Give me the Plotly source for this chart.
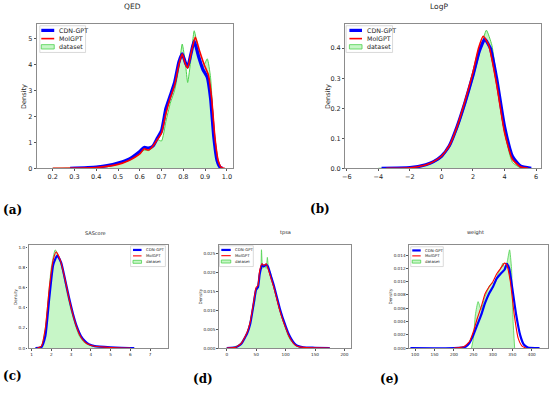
import plotly.graph_objects as go

W, H = 550, 394

# ---------------- data ----------------
qed_x_data = [0.2, 0.3, 0.4, 0.45, 0.5, 0.55, 0.6, 0.62, 0.64, 0.66, 0.68, 0.70, 0.72, 0.74, 0.76, 0.78, 0.795, 0.81, 0.82, 0.835, 0.85, 0.87, 0.89, 0.91, 0.925, 0.94, 0.955, 0.97, 0.98]
qed_y_data = [0.0, 0.01, 0.05, 0.1, 0.17, 0.3, 0.55, 0.7, 0.68, 0.8, 1.1, 1.05, 1.8, 2.5, 3.0, 3.9, 4.78, 4.0, 3.3, 4.2, 5.29, 4.5, 3.9, 4.21, 3.5, 1.5, 0.4, 0.05, 0.0]
qed_x_cdn = [0.28, 0.4, 0.45, 0.5, 0.55, 0.6, 0.62, 0.64, 0.66, 0.68, 0.70, 0.72, 0.74, 0.76, 0.78, 0.795, 0.81, 0.82, 0.835, 0.85, 0.87, 0.89, 0.91, 0.925, 0.94, 0.955, 0.97, 0.98]
qed_y_cdn = [0.0, 0.05, 0.1, 0.2, 0.35, 0.65, 0.8, 0.78, 0.85, 1.15, 1.45, 2.3, 2.8, 3.3, 4.1, 4.4, 4.05, 3.9, 4.4, 4.9, 4.3, 3.8, 3.5, 2.7, 1.2, 0.3, 0.03, 0.0]
qed_x_mol = [0.2, 0.4, 0.5, 0.55, 0.6, 0.62, 0.64, 0.66, 0.68, 0.70, 0.72, 0.74, 0.76, 0.78, 0.795, 0.81, 0.82, 0.835, 0.855, 0.875, 0.895, 0.915, 0.93, 0.945, 0.96, 0.975, 0.99]
qed_y_mol = [0.0, 0.03, 0.15, 0.3, 0.55, 0.75, 0.7, 0.85, 1.1, 1.35, 2.1, 2.7, 3.2, 4.0, 4.4, 4.0, 3.85, 4.4, 5.05, 4.5, 4.0, 3.6, 2.7, 1.2, 0.3, 0.03, 0.0]

logp_x_data = [-4, -2, -1, -0.5, 0, 0.5, 1, 1.5, 2, 2.5, 2.85, 3.2, 3.5, 4, 4.5, 5, 5.5]
logp_y_data = [0.0, 0.002, 0.01, 0.02, 0.035, 0.07, 0.13, 0.21, 0.3, 0.4, 0.46, 0.41, 0.3, 0.12, 0.02, 0.002, 0.0]
logp_x_cdn = [-3.8, -2, -1, -0.5, 0, 0.5, 1, 1.5, 2, 2.4, 2.75, 3.1, 3.5, 4, 4.5, 5, 5.7]
logp_y_cdn = [0.0, 0.002, 0.012, 0.022, 0.04, 0.075, 0.14, 0.22, 0.31, 0.39, 0.43, 0.4, 0.3, 0.14, 0.04, 0.008, 0.0]
logp_x_mol = [-3.5, -2, -1, -0.5, 0, 0.5, 1, 1.5, 2, 2.35, 2.65, 3.0, 3.5, 4, 4.5, 5, 5.5]
logp_y_mol = [0.0, 0.002, 0.011, 0.022, 0.04, 0.075, 0.14, 0.225, 0.32, 0.4, 0.44, 0.41, 0.28, 0.12, 0.03, 0.005, 0.0]

sas_x_data = [1.2, 1.5, 1.7, 1.85, 2.0, 2.2, 2.4, 2.6, 2.8, 3.0, 3.2, 3.4, 3.6, 3.8, 4.0, 4.5, 5.0, 6.0, 6.2]
sas_y_data = [0.0, 0.02, 0.2, 0.5, 0.8, 0.977, 0.9, 0.75, 0.55, 0.38, 0.24, 0.13, 0.07, 0.04, 0.025, 0.01, 0.005, 0.001, 0.0]
sas_x_cdn = [1.2, 1.5, 1.7, 1.9, 2.1, 2.3, 2.5, 2.7, 2.9, 3.1, 3.3, 3.5, 3.7, 3.9, 4.2, 5.0, 6.2]
sas_y_cdn = [0.0, 0.01, 0.12, 0.5, 0.83, 0.92, 0.85, 0.68, 0.5, 0.34, 0.21, 0.12, 0.07, 0.04, 0.02, 0.008, 0.0]
sas_x_mol = [1.3, 1.5, 1.7, 1.9, 2.1, 2.25, 2.45, 2.7, 2.9, 3.1, 3.3, 3.5, 3.7, 3.9, 4.2, 5.0, 6.0]
sas_y_mol = [0.0, 0.02, 0.2, 0.6, 0.88, 0.955, 0.88, 0.68, 0.49, 0.33, 0.2, 0.11, 0.06, 0.035, 0.018, 0.006, 0.0]

tpsa_x_data = [0, 10, 20, 25, 30, 35, 40, 45, 48, 50, 52, 55, 58, 59, 61, 64, 67, 69, 71, 75, 80, 85, 90, 95, 100, 105, 110, 120, 130, 140]
tpsa_y_data = [0.0, 0.0002, 0.0008, 0.0015, 0.0025, 0.004, 0.007, 0.0105, 0.0125, 0.015, 0.0155, 0.019, 0.021, 0.0259, 0.021, 0.022, 0.021, 0.0239, 0.021, 0.0195, 0.016, 0.013, 0.01, 0.0075, 0.0052, 0.003, 0.0017, 0.0005, 0.0001, 0.0]
tpsa_x_cdn = [0, 15, 20, 25, 30, 35, 40, 45, 50, 53, 56, 60, 63, 67, 70, 75, 80, 85, 90, 95, 100, 105, 110, 115, 120, 130, 150, 175]
tpsa_y_cdn = [0.0, 0.0002, 0.0006, 0.0012, 0.0025, 0.004, 0.0065, 0.011, 0.0155, 0.016, 0.0195, 0.022, 0.0215, 0.022, 0.0215, 0.019, 0.0165, 0.0135, 0.0105, 0.008, 0.0058, 0.0038, 0.0023, 0.0012, 0.0006, 0.0002, 0.0001, 0.0]
tpsa_x_mol = [0, 15, 20, 25, 30, 35, 40, 45, 50, 53, 56, 60, 63, 67, 70, 75, 80, 85, 90, 95, 100, 105, 110, 115, 120, 130, 150, 175]
tpsa_y_mol = [0.0, 0.0002, 0.0007, 0.0013, 0.0027, 0.0043, 0.007, 0.0115, 0.016, 0.0165, 0.0205, 0.0222, 0.0218, 0.0222, 0.021, 0.0185, 0.016, 0.013, 0.01, 0.0075, 0.0054, 0.0034, 0.002, 0.001, 0.0005, 0.0002, 0.0001, 0.0]

wt_x_data = [245, 250, 255, 262, 270, 278, 285, 292, 300, 306, 312, 320, 326, 332, 337, 343, 348, 352, 356]
wt_y_data = [0.0, 0.0015, 0.005, 0.007, 0.0058, 0.0075, 0.0085, 0.0095, 0.0098, 0.0098, 0.011, 0.012, 0.0128, 0.0118, 0.013, 0.0148, 0.012, 0.004, 0.0]
wt_x_cdn = [88, 200, 230, 240, 250, 260, 270, 280, 290, 300, 310, 320, 330, 336, 342, 350, 360, 370, 380, 390, 420]
wt_y_cdn = [0.0, 0.0, 0.0002, 0.0008, 0.002, 0.0035, 0.005, 0.0068, 0.0082, 0.0092, 0.0105, 0.0112, 0.0118, 0.0127, 0.012, 0.009, 0.005, 0.002, 0.0005, 0.0001, 0.0]
wt_x_mol = [200, 225, 240, 250, 260, 270, 280, 290, 300, 310, 320, 330, 336, 345, 355, 365, 375, 385]
wt_y_mol = [0.0, 0.0002, 0.001, 0.0025, 0.0045, 0.0062, 0.0082, 0.0092, 0.01, 0.0112, 0.012, 0.0128, 0.0125, 0.01, 0.005, 0.0015, 0.0003, 0.0]

titles = ["QED", "LogP", "SAScore", "tpsa", "weight"]
panel_labels = ["(a)", "(b)", "(c)", "(d)", "(e)"]
series_names = ["CDN-GPT", "MolGPT", "dataset"]

# ---------------- layout helpers ----------------
def px_x(p):
    return p / W

def px_y(p):
    return 1 - p / H

BLUE = "#0000ff"
RED = "#ff0000"
GREEN_LINE = "#4fd24f"
GREEN_FILL = "rgba(144,238,144,0.5)"
FRAME = "#8c8c8c"
FONT = "DejaVu Sans"
TXT = "#262626"

panels = [
    dict(data=(qed_x_data, qed_y_data), cdn=(qed_x_cdn, qed_y_cdn), mol=(qed_x_mol, qed_y_mol),
         box=(34, 231, 24, 170), xr=[0.127, 1.027], yr=[0, 5.56], xt=[0.2, 0.3, 0.4, 0.5, 0.6, 0.7, 0.8, 0.9, 1.0],
         xfmt=".1f", yt=[0, 1, 2, 3, 4, 5], yfmt="d", big=True,
         leg=dict(box=(37, 83, 26, 53), rows=(30.7, 39, 47.3), sym=(38.5, 51.5), tx=54.5),
         dens_x=21, title_xy=(130, 7)),
    dict(data=(logp_x_data, logp_y_data), cdn=(logp_x_cdn, logp_y_cdn), mol=(logp_x_mol, logp_y_mol),
         box=(344, 540.7, 24, 170), xr=[-6.11, 6.3], yr=[0, 0.4815], xt=[-6, -4, -2, 0, 2, 4, 6],
         xfmt="d", yt=[0, 0.1, 0.2, 0.3, 0.4], yfmt=".1f", big=True,
         leg=dict(box=(345, 391.7, 26, 53), rows=(30.7, 39, 47.3), sym=(348.3, 361), tx=364),
         dens_x=326.7, title_xy=(438, 7)),
    dict(data=(sas_x_data, sas_y_data), cdn=(sas_x_cdn, sas_y_cdn), mol=(sas_x_mol, sas_y_mol),
         box=(25.7, 165.7, 247.7, 351.7), xr=[0.85, 7.9], yr=[0, 1.023], xt=[1, 2, 3, 4, 5, 6, 7],
         xfmt="d", yt=[0, 0.2, 0.4, 0.6, 0.8, 1.0], yfmt=".1f", big=False,
         leg=dict(box=(128.3, 163.3, 248.3, 269.3), rows=(252.5, 258.5, 264.5), sym=(130.7, 139.3), tx=141.5),
         dens_x=12.3, title_xy=(93, 235)),
    dict(data=(tpsa_x_data, tpsa_y_data), cdn=(tpsa_x_cdn, tpsa_y_cdn), mol=(tpsa_x_mol, tpsa_y_mol),
         box=(217, 350, 247.7, 351.7), xr=[-13.5, 211.3], yr=[0, 0.0271], xt=[0, 50, 100, 150, 200],
         xfmt="d", yt=[0, 0.005, 0.01, 0.015, 0.02, 0.025], yfmt=".3f", big=False,
         leg=dict(box=(217.7, 251.7, 248.3, 269.3), rows=(252.5, 258.3, 264.2), sym=(219.5, 229), tx=231),
         dens_x=199, title_xy=(284, 235)),
    dict(data=(wt_x_data, wt_y_data), cdn=(wt_x_cdn, wt_y_cdn), mol=(wt_x_mol, wt_y_mol),
         box=(408.3, 547.7, 247.7, 351.7), xr=[84.6, 441], yr=[0, 0.0155], xt=[100, 150, 200, 250, 300, 350, 400],
         xfmt="d", yt=[0, 0.002, 0.004, 0.006, 0.008, 0.01, 0.012, 0.014], yfmt=".3f", big=False,
         leg=dict(box=(410, 442.7, 249.3, 269.3), rows=(253, 258.5, 264.3), sym=(411.5, 420), tx=422.3),
         dens_x=390, title_xy=(475, 235)),
]

fig = go.Figure()
annotations = []
shapes = []
layout = dict(
    width=W, height=H, margin=dict(l=0, r=0, t=0, b=0),
    paper_bgcolor="white", plot_bgcolor="white",
    font=dict(family=FONT, color=TXT),
    showlegend=False,
)

for i, p in enumerate(panels):
    n = "" if i == 0 else str(i + 1)
    xa, ya = "x" + n, "y" + n
    big = p["big"]
    tick_fs = 6.5 if big else 4.2
    lw_cdn = 3.2 if big else 2.2
    lw_mol = 1.6 if big else 1.1
    lw_data = 1.0 if big else 0.8

    dx, dy = p["data"]
    fig.add_trace(go.Scatter(x=dx, y=dy, mode="lines", name=series_names[2], fill="tozeroy",
                             fillcolor=GREEN_FILL,
                             line=dict(color=GREEN_LINE, width=lw_data, shape="spline", smoothing=0.5),
                             xaxis=xa, yaxis=ya))
    fig.add_trace(go.Scatter(x=p["cdn"][0], y=p["cdn"][1], mode="lines", name=series_names[0],
                             line=dict(color=BLUE, width=lw_cdn, shape="spline", smoothing=0.5),
                             xaxis=xa, yaxis=ya))
    fig.add_trace(go.Scatter(x=p["mol"][0], y=p["mol"][1], mode="lines", name=series_names[1],
                             line=dict(color=RED, width=lw_mol, shape="spline", smoothing=0.5),
                             xaxis=xa, yaxis=ya))
    l, r, t, b = p["box"]
    axis_common = dict(showgrid=False, zeroline=False, showline=True, mirror=True,
                       linecolor=FRAME, linewidth=1.2, ticks="outside", ticklen=2 if big else 1.5,
                       tickcolor="#555555", tickwidth=0.8,
                       tickfont=dict(size=tick_fs, family=FONT, color=TXT))
    layout["xaxis" + n] = dict(axis_common, domain=[px_x(l), px_x(r)], range=p["xr"], anchor=ya,
                               tickvals=p["xt"], tickformat=p["xfmt"])
    layout["yaxis" + n] = dict(axis_common, domain=[px_y(b), px_y(t)], range=p["yr"], anchor=xa,
                               tickvals=p["yt"], tickformat=p["yfmt"])

    # legend (matplotlib style) drawn in paper coordinates
    lg = p["leg"]
    bx0, bx1, by0, by1 = lg["box"]
    shapes.append(dict(type="rect", xref="paper", yref="paper", x0=px_x(bx0), x1=px_x(bx1),
                       y0=px_y(by1), y1=px_y(by0), fillcolor="rgba(255,255,255,0.8)",
                       line=dict(color="#d0d0d0", width=0.8), layer="above"))
    s0, s1 = lg["sym"]
    r0, r1, r2 = lg["rows"]
    shapes.append(dict(type="line", xref="paper", yref="paper", x0=px_x(s0), x1=px_x(s1),
                       y0=px_y(r0), y1=px_y(r0), line=dict(color=BLUE, width=lw_cdn), layer="above"))
    shapes.append(dict(type="line", xref="paper", yref="paper", x0=px_x(s0), x1=px_x(s1),
                       y0=px_y(r1), y1=px_y(r1), line=dict(color=RED, width=lw_mol), layer="above"))
    ph = 2.2 if big else 1.5
    shapes.append(dict(type="rect", xref="paper", yref="paper", x0=px_x(s0), x1=px_x(s1),
                       y0=px_y(r2 + ph), y1=px_y(r2 - ph), fillcolor=GREEN_FILL,
                       line=dict(color=GREEN_LINE, width=0.8), layer="above"))
    for name, ry in zip(series_names, (r0, r1, r2)):
        annotations.append(dict(text=name, x=px_x(lg["tx"]), y=px_y(ry), xref="paper", yref="paper",
                                showarrow=False, xanchor="left", yanchor="middle",
                                font=dict(size=6.3 if big else 3.9, family=FONT, color=TXT)))

    tx, ty = p["title_xy"]
    annotations.append(dict(text=titles[i], x=px_x(tx), y=px_y(ty), xref="paper", yref="paper",
                            showarrow=False, xanchor="center", yanchor="middle",
                            font=dict(size=7.5 if big else 5.0, family=FONT, color=TXT)))
    annotations.append(dict(text="Density", x=px_x(p["dens_x"]), y=px_y((t + b) / 2), xref="paper", yref="paper",
                            showarrow=False, textangle=-90, xanchor="center", yanchor="middle",
                            font=dict(size=6.5 if big else 4.2, family=FONT, color=TXT)))

# panel labels
label_pos = [(10, 212), (319, 211), (10, 380), (201, 383), (389, 383)]
for lab, (x, y) in zip(panel_labels, label_pos):
    annotations.append(dict(text="<b>" + lab + "</b>", x=px_x(x), y=px_y(y), xref="paper", yref="paper",
                            showarrow=False, xanchor="center", yanchor="middle",
                            font=dict(size=12, family="DejaVu Serif", color="black")))

layout["annotations"] = annotations
layout["shapes"] = shapes
fig.update_layout(**layout)
fig.write_html("out.html", config={"displayModeBar": False},
               post_script="document.body.style.margin='0px';document.body.style.overflow='hidden';")
